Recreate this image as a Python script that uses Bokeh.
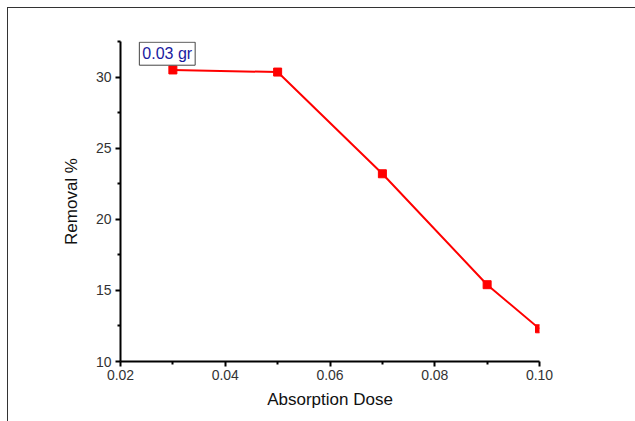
from bokeh.plotting import figure
from bokeh.models import Range1d, FixedTicker, PrintfTickFormatter, Label
from bokeh.embed import file_html
from bokeh.resources import INLINE

dose = [0.03, 0.05, 0.07, 0.09, 0.10]
removal = [30.5, 30.35, 23.2, 15.4, 12.3]
x_ticks = [0.02, 0.04, 0.06, 0.08, 0.10]
y_ticks = [10, 15, 20, 25, 30]
label_text = "0.03 gr"

FONT = "Liberation Sans"

p = figure(width=628, height=414, output_backend="svg", toolbar_location=None,
           x_range=Range1d(0.02, 0.10), y_range=Range1d(10, 32.5),
           min_border_left=112, min_border_right=97, min_border_top=33, min_border_bottom=61)
p.styles = {"margin-left": "7px", "margin-top": "7px",
            "border-top": "1px solid #333", "border-left": "1px solid #333"}
p.outline_line_color = None
p.grid.visible = False
p.background_fill_color = "white"
p.border_fill_color = "white"

p.line(dose, removal, line_color="#ff0000", line_width=2)
p.scatter(dose, removal, marker="square", size=8, fill_color="#ff0000", line_color="#ff0000")

for ax in (p.xaxis[0], p.yaxis[0]):
    ax.axis_line_width = 2
    ax.axis_line_color = "black"
    ax.major_tick_line_width = 2
    ax.minor_tick_line_width = 2
    ax.major_tick_line_color = "black"
    ax.minor_tick_line_color = "black"
    ax.major_tick_out = 5
    ax.major_tick_in = 0
    ax.minor_tick_out = 3
    ax.minor_tick_in = 0
    ax.major_label_text_font = FONT
    ax.major_label_text_font_size = "14px"
    ax.major_label_text_color = "#333333"
    ax.axis_label_text_font = FONT
    ax.axis_label_text_font_size = "17px"
    ax.axis_label_text_font_style = "normal"
    ax.axis_label_text_color = "#111111"

p.xaxis[0].ticker = FixedTicker(ticks=x_ticks, minor_ticks=[0.03, 0.05, 0.07, 0.09])
p.xaxis[0].formatter = PrintfTickFormatter(format="%.2f")
p.yaxis[0].ticker = FixedTicker(ticks=y_ticks, minor_ticks=[12.5, 17.5, 22.5, 27.5, 32.5])
p.xaxis[0].axis_label = "Absorption Dose"
p.yaxis[0].axis_label = "Removal %"
p.xaxis[0].axis_label_standoff = 7
p.yaxis[0].axis_label_standoff = 12
p.xaxis[0].major_label_standoff = 3
p.yaxis[0].major_label_standoff = 4

lab = Label(x=0.0236, y=32.45, text=label_text, text_font=FONT, text_font_size="16px",
            text_color="#1a1aa0", text_align="left", text_baseline="top",
            border_line_color="#444444", border_line_width=1,
            background_fill_color="white", padding=3)
p.add_layout(lab)

open("out.html", "w").write(file_html(p, INLINE))
